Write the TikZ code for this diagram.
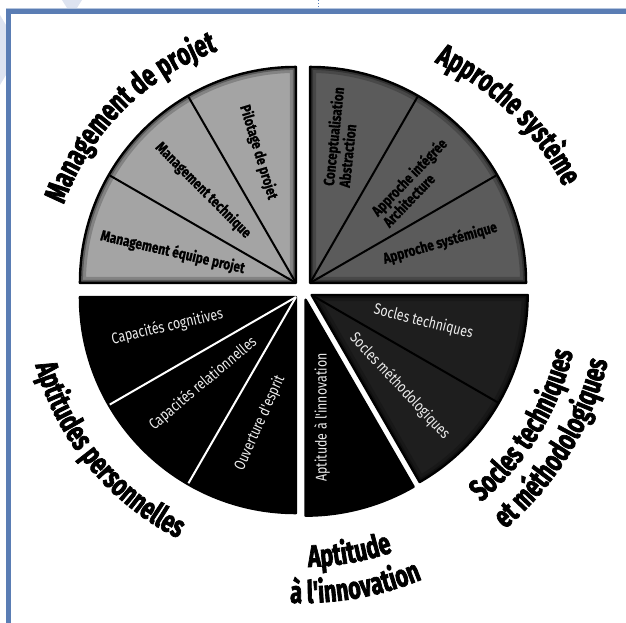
\documentclass[tikz,border=0pt]{standalone}
\usepackage{fontspec}
\setmainfont{Fira Sans}
\newfontfamily\catfont[FakeStretch=0.7, BoldFeatures={FakeBold=2.2}]{Fira Sans}
\newfontfamily\secfont[FakeStretch=0.8, BoldFeatures={FakeBold=0.8}]{Fira Sans}
\usetikzlibrary{calc}
\usetikzlibrary{decorations.text}

\definecolor{frameblue}{HTML}{5A7DB4}
\definecolor{paleblue}{HTML}{DDE3F0}
\definecolor{mpgrey}{HTML}{A4A4A4}
\definecolor{asgrey}{HTML}{5B5B5B}
\definecolor{stgrey}{HTML}{1E1E1E}

\tikzset{
  seclabel/.style={font=\secfont\bfseries\fontsize{15}{16}\selectfont, align=left, inner sep=0pt},
  whitelabel/.style={font=\secfont\fontsize{15.5}{16}\selectfont, text=white!92!black, inner sep=0pt},
  cattext/.style={decorate, decoration={text along path, text align=center,
      text={|\catfont\bfseries\fontsize{31}{31}\selectfont|#1}}},
}

\begin{document}
\begin{tikzpicture}[x=1pt, y=1pt]
\useasboundingbox (-303,-332) rectangle (323,290);

% page frame and marks
\fill[paleblue] (-303,275) -- (-297,265) -- (-297,215) -- (-303,205) -- cycle;
\fill[paleblue] (-241,290) -- (-221,290) -- (-226,282) -- (-236,282) -- cycle;
\draw[frameblue!45, line width=1.2pt] (-297,281.7) -- (330,281.7);
\draw[frameblue, line width=5pt] (-294.5,-340) -- (-294.5,278.5) -- (330,278.5);
\draw[frameblue, dotted, line width=1pt] (15,290) -- (15,283);

% exploded pie
\foreach \s/\e/\col in {90/180/mpgrey, 0/90/asgrey, -60/0/stgrey, -90/-60/black, 180/270/black}{
  \begin{scope}[shift={({(\s+\e)/2}:10)}]
    \fill[\col] (0,0) -- (\s:216) arc[start angle=\s, end angle=\e, radius=216] -- cycle;
    \begin{scope}
      \clip (0,0) -- (\s:216) arc[start angle=\s, end angle=\e, radius=216] -- cycle;
      \draw[black, opacity=0.2, line width=12pt] (0,0) -- (\s:216) arc[start angle=\s, end angle=\e, radius=216] -- cycle;
      \draw[black, opacity=0.3, line width=6pt] (0,0) -- (\s:216) arc[start angle=\s, end angle=\e, radius=216] -- cycle;
    \end{scope}
    \draw[black, line width=2.4pt, line join=round] (0,0) -- (\s:216) arc[start angle=\s, end angle=\e, radius=216] -- cycle;
  \end{scope}
}
\foreach \a/\m/\col in {120/135/black, 150/135/black, 30/45/black, 60/45/black, -30/-30/black, 210/225/white, 240/225/white}
  \draw[\col, line width=2pt, shift={(\m:10)}] (0,0) -- (\a:215);

% sector labels
\begin{scope}[shift={(135:10)}]
  \node[seclabel, rotate=-73] (pilotage) at (106:136) {Pilotage de projet};
  \node[seclabel, rotate=-45] (mgttech) at (135:131) {Management technique};
  \node[seclabel, rotate=-13] (mgtequipe) at (166:127) {Management équipe projet};
\end{scope}
\begin{scope}[shift={(45:10)}]
  \node[seclabel, rotate=84] (concept) at (78:149) {Conceptualisation\\Abstraction};
  \node[seclabel, rotate=46] (integree) at (44:145) {Approche intégrée\\Architecture};
  \node[seclabel, rotate=16] (systemique) at (17:136) {Approche systémique};
\end{scope}
\begin{scope}[shift={(-30:10)}]
  \node[whitelabel, rotate=-14] (soctech) at (-13.5:115) {Socles techniques};
  \node[whitelabel, rotate=-47] (socmeth) at (-46:127) {Socles méthodologiques};
\end{scope}
\begin{scope}[shift={(-75:10)}]
  \node[whitelabel, rotate=90] (aptinno) at (-82:119) {Aptitude à l'innovation};
\end{scope}
\begin{scope}[shift={(225:10)}]
  \node[whitelabel, rotate=13] (capcog) at (193:132) {Capacités cognitives};
  \node[whitelabel, rotate=40] (caprel) at (223:127) {Capacités relationnelles};
  \node[whitelabel, rotate=66] (ouverture) at (254:131) {Ouverture d'esprit};
\end{scope}

% category titles along arcs
\path[cattext={Management de projet}] (175:254) arc[start angle=175, end angle=95, radius=254];
\path[shift={(17,-20)}, cattext={Approche système}] (83:273) arc[start angle=83, end angle=9, radius=273];
\path[cattext={Socles techniques}] (-66.5:277) arc[start angle=-66.5, end angle=3.5, radius=277];
\path[cattext={et méthodologiques}] (-66.5:313) arc[start angle=-66.5, end angle=3.5, radius=313];
\path[cattext={Aptitude}] (-110:277) arc[start angle=-110, end angle=-50, radius=277];
\path[cattext={à l'innovation}] (-110:313) arc[start angle=-110, end angle=-50, radius=313];
\path[cattext={Aptitudes personnelles}] (179.5:278) arc[start angle=179.5, end angle=259.5, radius=278];
\end{tikzpicture}
\end{document}
